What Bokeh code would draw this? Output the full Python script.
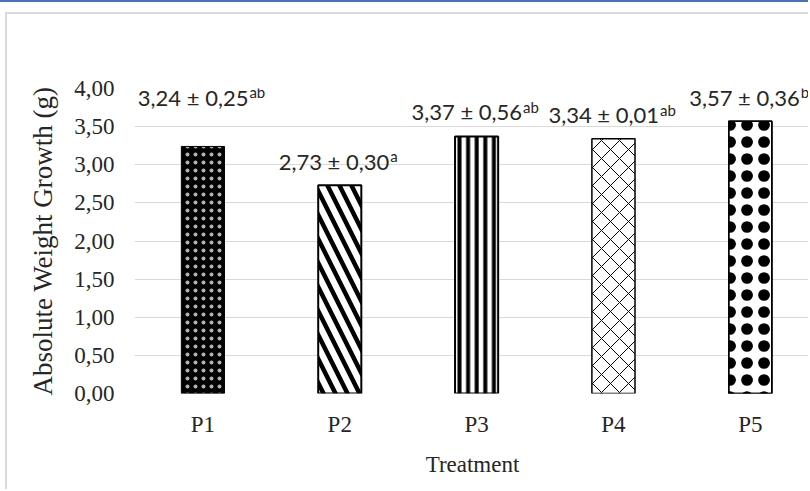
from bokeh.plotting import figure
from bokeh.layouts import column
from bokeh.models import ColumnDataSource, Range1d, FixedTicker, CustomJSTickFormatter, LabelSet
from bokeh.embed import file_html
from bokeh.resources import INLINE
from bokeh.core.properties import value

treatments = ["P1", "P2", "P3", "P4", "P5"]
means = [3.24, 2.73, 3.37, 3.34, 3.57]
sds = [0.25, 0.30, 0.56, 0.01, 0.36]
letters = ["ab", "a", "ab", "ab", "b"]
y_ticks = [0, 0.5, 1.0, 1.5, 2.0, 2.5, 3.0, 3.5, 4.0]

xs = [i + 0.5 for i in range(len(treatments))]
fmt = lambda v: f"{v:.2f}".replace(".", ",")
main_txt = [f"{fmt(m)} \u00b1 {fmt(s)}" for m, s in zip(means, sds)]

p = figure(width=803, height=477, output_backend="svg", toolbar_location=None,
           x_range=Range1d(0, 4.94), y_range=Range1d(0, 4.0),
           min_border_left=127, min_border_right=0, min_border_top=74, min_border_bottom=98)
p.margin = (10, 0, 0, 5)
p.styles = {"border-left": "2px solid #d9d9d9", "border-top": "2px solid #d9d9d9"}
p.outline_line_color = None
p.background_fill_color = "white"
p.border_fill_color = "white"

# one hatch style per treatment; P5 gets an extra ring layer to enlarge its dots
patterns = [
    [dict(fill_color="black", hatch_pattern="dot", hatch_color="white", hatch_alpha=0.7,
          hatch_scale=8, hatch_weight=1, line_width=1)],
    [dict(fill_color="white", hatch_pattern="left_diagonal_line", hatch_color="black",
          hatch_scale=24, hatch_weight=4.5, line_width=2)],
    [dict(fill_color="white", hatch_pattern="vertical_line", hatch_color="black",
          hatch_scale=8.6, hatch_weight=4, line_width=2)],
    [dict(fill_color="white", hatch_pattern="diagonal_cross", hatch_color="black",
          hatch_scale=18, hatch_weight=1, line_width=1.5)],
    [dict(fill_color="white", hatch_pattern="dot", hatch_color="black",
          hatch_scale=17, hatch_weight=1, line_width=1.5),
     dict(fill_color=None, hatch_pattern="ring", hatch_color="black",
          hatch_scale=17, hatch_weight=3.2, line_width=1.5)],
]
for i, layers in enumerate(patterns):
    src = ColumnDataSource(dict(x=[xs[i]], top=[means[i]]))
    for st in layers:
        p.vbar(x="x", top="top", bottom=0, width=0.315, source=src, line_color="black", **st)

# data labels (value ± sd with superscript letters)
lab_off = [49, 24, 25, 24, 24]
sup_w = [17 if len(l) == 2 else 9 for l in letters]
d = [(108 - w) / 2 for w in sup_w]
lsrc = ColumnDataSource(dict(x=xs, y=means, t=main_txt, s=letters,
                             yo=lab_off, yo2=[o + 5 for o in lab_off], xo=d,
                             xo2=[v + 1 for v in d]))
main_labels = LabelSet(x="x", y="y", text="t", source=lsrc, x_offset="xo", y_offset="yo",
                       text_align="right", text_baseline="middle", text_font=value("Lato"),
                       text_font_size="22px", text_color="#262626")
sup_labels = LabelSet(x="x", y="y", text="s", source=lsrc, x_offset="xo2", y_offset="yo2",
                      text_align="left", text_baseline="middle", text_font=value("Lato"),
                      text_font_size="15px", text_color="#262626")
p.add_layout(main_labels)
p.add_layout(sup_labels)

# axes
p.xaxis.ticker = FixedTicker(ticks=xs)
p.xaxis.major_label_overrides = {x: t for x, t in zip(xs, treatments)}
p.yaxis.ticker = FixedTicker(ticks=y_ticks)
p.yaxis.formatter = CustomJSTickFormatter(code="return tick.toFixed(2).replace('.', ',');")
for ax in (p.xaxis, p.yaxis):
    ax.axis_line_color = None
    ax.major_tick_line_color = None
    ax.minor_tick_line_color = None
    ax.major_tick_out = 0
    ax.major_tick_in = 0
    ax.minor_tick_out = 0
    ax.minor_tick_in = 0
    ax.major_label_text_font = "Liberation Serif"
    ax.major_label_text_font_size = "23px"
    ax.major_label_text_color = "#262626"
    ax.axis_label_text_font = "Liberation Serif"
    ax.axis_label_text_font_style = "normal"
    ax.axis_label_text_color = "#262626"
p.xaxis.axis_label_text_font_size = "23px"
p.yaxis.axis_label_text_font_size = "27px"
p.yaxis.major_label_standoff = 20
p.xaxis.major_label_standoff = 18
p.yaxis.axis_label = "Absolute Weight Growth (g)"
p.xaxis.axis_label = "Treatment"
p.yaxis.axis_label_standoff = 13
p.xaxis.axis_label_standoff = 12
p.xgrid.grid_line_color = None
p.ygrid.ticker = FixedTicker(ticks=y_ticks)
p.ygrid.grid_line_color = "#d9d9d9"
p.ygrid.grid_line_width = 1

root = column(p, styles={"border-top": "2px solid #4472C4"})
open("out.html", "w").write(file_html(root, INLINE))
